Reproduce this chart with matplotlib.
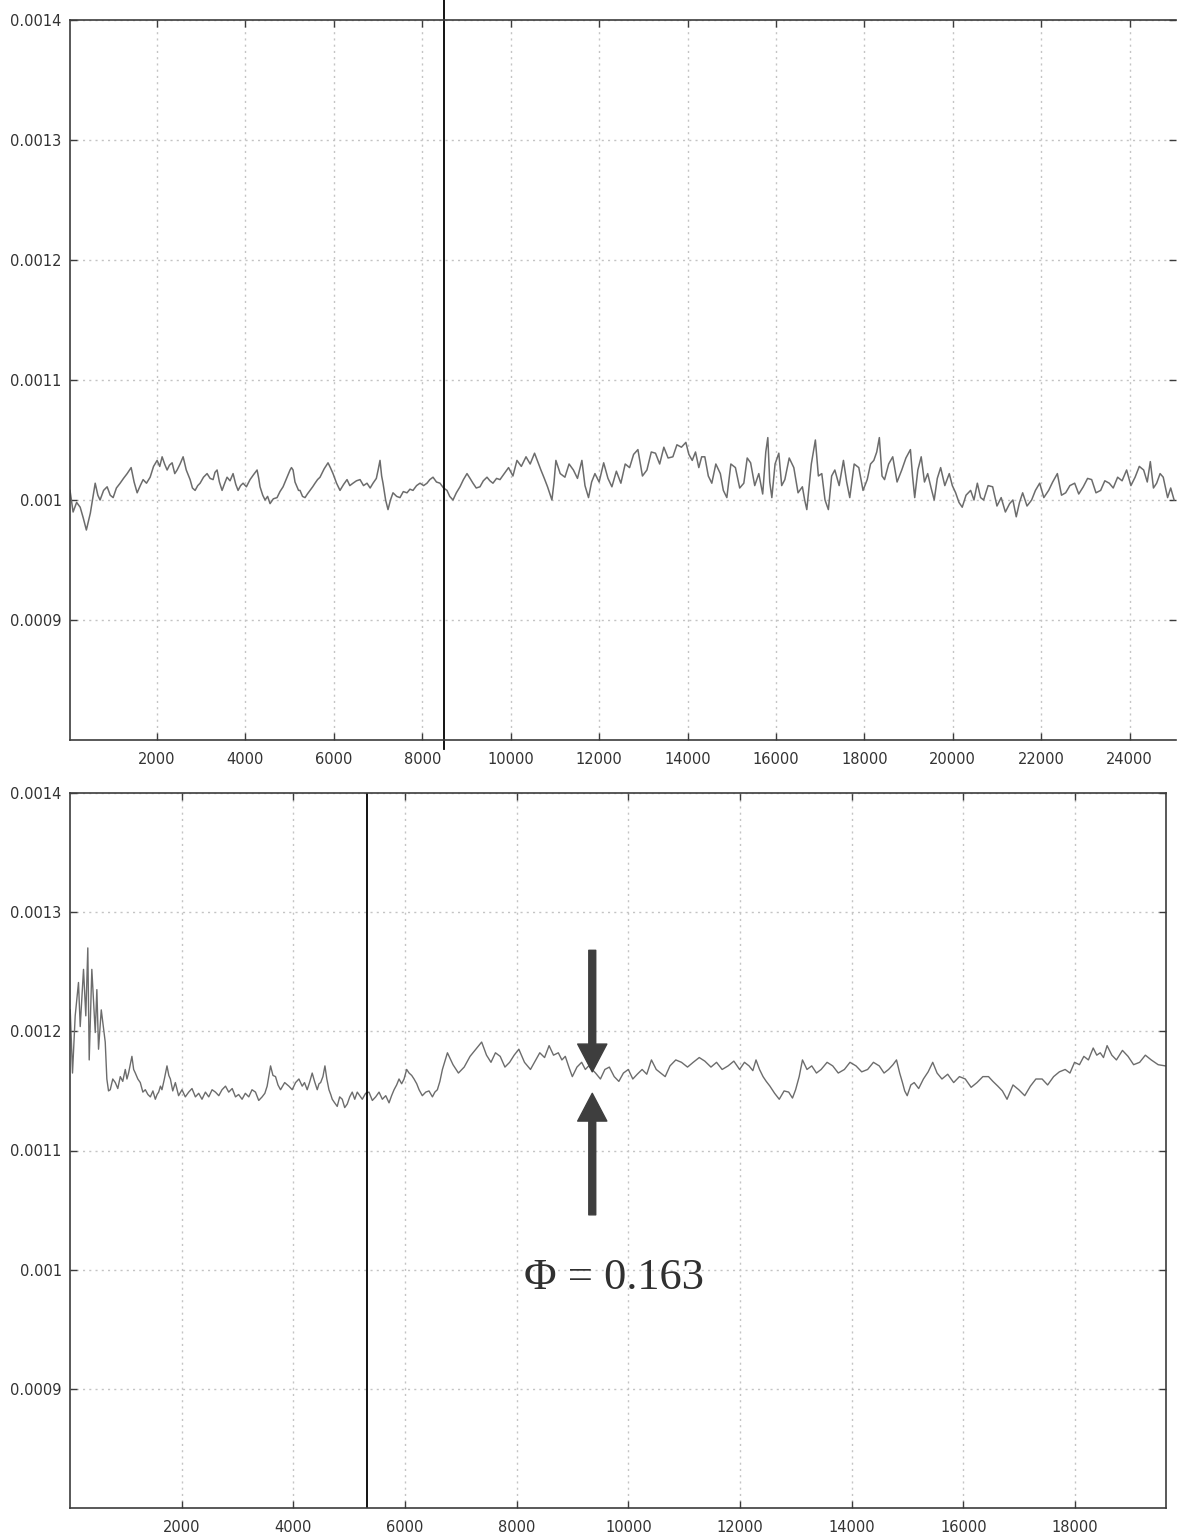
import numpy as np
import matplotlib
matplotlib.use("Agg")
import matplotlib.pyplot as plt
from matplotlib.ticker import FixedLocator, FixedFormatter

# ---------------- data (y values in units of 1e-6) ----------------
top_x = [30, 100, 180, 260, 330, 400, 490, 560, 600, 660, 710, 790, 870, 940, 1006, 1080, 1164, 1240,
         1323, 1413, 1480, 1549, 1620, 1684, 1760, 1843, 1920, 2001, 2060, 2114, 2170, 2227, 2280, 2340,
         2400, 2453, 2520, 2589, 2660, 2747, 2800, 2860, 2920, 2973, 3050, 3131, 3200, 3267, 3310, 3357,
         3410, 3470, 3530, 3583, 3650, 3719, 3780, 3832, 3890, 3945, 4020, 4103, 4180, 4262, 4300, 4329,
         4390, 4443, 4500, 4556, 4630, 4714, 4780, 4850, 4930, 5008, 5040, 5076, 5120, 5166, 5200, 5234,
         5290, 5347, 5400, 5460, 5520, 5573, 5630, 5686, 5780, 5867, 5920, 5980, 6060, 6138, 6220, 6297,
         6360, 6432, 6510, 6591, 6670, 6749, 6820, 6885, 6960, 7000, 7043, 7080, 7111, 7170, 7224, 7280,
         7337, 7420, 7495, 7570, 7654, 7720, 7789, 7870, 7948, 8030, 8106, 8170, 8242, 8320, 8400, 8480,
         8558, 8620, 8694, 8770, 8852, 8930, 9011, 9080, 9146, 9220, 9304, 9380, 9463, 9530, 9598, 9680,
         9757, 9951, 10050, 10141, 10240, 10346, 10440, 10539, 10610, 10683, 10760, 10833, 10932, 10980,
         11022, 11120, 11226, 11320, 11418, 11510, 11610, 11680, 11760, 11830, 11905, 12000, 12103, 12200,
         12289, 12390, 12492, 12590, 12689, 12780, 12877, 12980, 13081, 13180, 13275, 13370, 13464, 13560,
         13668, 13760, 13862, 13962, 14030, 14106, 14180, 14255, 14320, 14391, 14470, 14549, 14640, 14742,
         14810, 14889, 14980, 15083, 15180, 15273, 15350, 15427, 15520, 15612, 15700, 15770, 15816, 15860,
         15907, 15980, 16065, 16130, 16201, 16300, 16404, 16500, 16598, 16650, 16698, 16800, 16892, 16960,
         17037, 17110, 17186, 17260, 17332, 17430, 17527, 17600, 17670, 17770, 17874, 17970, 18065, 18140,
         18214, 18280, 18339, 18400, 18457, 18550, 18642, 18740, 18846, 18940, 19042, 19090, 19139, 19210,
         19286, 19360, 19433, 19510, 19580, 19650, 19726, 19820, 19921, 19990, 20065, 20140, 20214, 20300,
         20404, 20480, 20556, 20630, 20698, 20800, 20902, 21000, 21095, 21190, 21287, 21360, 21436, 21510,
         21581, 21680, 21784, 21870, 21966, 22060, 22169, 22260, 22366, 22460, 22554, 22650, 22758, 22850,
         22952, 23050, 23142, 23240, 23345, 23440, 23540, 23630, 23730, 23830, 23933, 24030, 24125, 24220,
         24318, 24400, 24469, 24540, 24612, 24690, 24761, 24860, 24930, 25007]
top_y = [1008, 990, 998, 994, 985, 975, 989, 1005, 1014, 1004, 1000, 1008, 1011, 1004, 1002, 1010, 1014, 1018,
         1022, 1027, 1015, 1006, 1012, 1017, 1014, 1019, 1028, 1033, 1028, 1036, 1030, 1025, 1029, 1031,
         1022, 1025, 1030, 1036, 1025, 1017, 1010, 1008, 1012, 1014, 1019, 1022, 1018, 1017, 1023, 1025,
         1015, 1008, 1014, 1019, 1016, 1022, 1013, 1008, 1012, 1014, 1011, 1017, 1021, 1025, 1018, 1011,
         1004, 1000, 1003, 997, 1001, 1002, 1007, 1011, 1018, 1025, 1027, 1025, 1015, 1011, 1008, 1008,
         1003, 1002, 1005, 1008, 1011, 1014, 1017, 1019, 1026, 1031, 1027, 1022, 1014, 1008, 1013, 1017,
         1012, 1014, 1016, 1017, 1012, 1014, 1010, 1014, 1018, 1025, 1033, 1020, 1014, 1000, 992, 1000,
         1006, 1003, 1002, 1007, 1006, 1009, 1008, 1012, 1014, 1012, 1014, 1017, 1019, 1015, 1014, 1010,
         1008, 1003, 1000, 1006, 1011, 1017, 1022, 1018, 1014, 1010, 1011, 1016, 1019, 1016, 1014, 1018,
         1017, 1027, 1020, 1033, 1028, 1036, 1030, 1039, 1032, 1025, 1018, 1011, 1000, 1015,
         1033, 1022, 1019, 1030, 1025, 1018, 1033, 1012, 1002, 1015, 1022, 1015, 1031, 1018,
         1011, 1024, 1014, 1030, 1027, 1038, 1042, 1020, 1025, 1040, 1039, 1030, 1044, 1035,
         1036, 1046, 1044, 1048, 1038, 1033, 1040, 1027, 1036, 1036, 1020, 1014, 1030, 1022,
         1008, 1002, 1030, 1027, 1010, 1014, 1035, 1031, 1012, 1022, 1005, 1040, 1052, 1015,
         1002, 1030, 1039, 1012, 1017, 1035, 1027, 1006, 1011, 1000, 992, 1030, 1050, 1020,
         1022, 1000, 992, 1020, 1025, 1012, 1033, 1015, 1002, 1030, 1027, 1008, 1017, 1030,
         1033, 1040, 1052, 1020, 1017, 1030, 1036, 1015, 1025, 1035, 1042, 1020, 1002, 1025,
         1036, 1015, 1022, 1010, 1000, 1018, 1027, 1012, 1022, 1012, 1006, 998, 994, 1004,
         1008, 1000, 1014, 1002, 1000, 1012, 1011, 995, 1002, 990, 997, 1000, 986, 998,
         1006, 995, 1000, 1008, 1014, 1002, 1008, 1015, 1022, 1004, 1006, 1012, 1014, 1005,
         1011, 1018, 1017, 1006, 1008, 1016, 1014, 1010, 1019, 1016, 1025, 1012, 1019, 1028,
         1025, 1015, 1032, 1010, 1014, 1022, 1019, 1002, 1010, 1000]

bot_x = [4, 45, 93, 152, 183, 242, 283, 319, 344, 391, 452, 481, 511, 560, 601, 631,
         660, 690, 721, 766, 811, 856, 901, 945, 990, 1020, 1049, 1080, 1109, 1140, 1170, 1215,
         1259, 1305, 1349, 1395, 1439, 1485, 1528, 1560, 1588, 1620, 1647, 1690, 1737, 1770, 1798, 1840,
         1887, 1945, 2006, 2065, 2126, 2185, 2246, 2305, 2364, 2425, 2485, 2545, 2605, 2665, 2723, 2785,
         2843, 2905, 2964, 3020, 3082, 3140, 3202, 3260, 3322, 3380, 3441, 3490, 3531, 3592, 3635, 3681,
         3725, 3771, 3845, 3920, 3980, 4040, 4100, 4159, 4200, 4248, 4290, 4338, 4380, 4428, 4460, 4489,
         4530, 4566, 4600, 4638, 4670, 4697, 4740, 4786, 4830, 4876, 4920, 4966, 5010, 5055, 5100, 5145,
         5190, 5235, 5295, 5355, 5415, 5475, 5535, 5594, 5655, 5714, 5760, 5804, 5850, 5893, 5940, 5983,
         6030, 6073, 6120, 6162, 6210, 6252, 6310, 6372, 6430, 6491, 6535, 6580, 6625, 6670, 6715, 6760,
         6860, 6957, 7060, 7165, 7270, 7373, 7460, 7540, 7620, 7705, 7790, 7874, 7955, 8039, 8140, 8247,
         8330, 8414, 8500, 8581, 8660, 8746, 8810, 8871, 8935, 8997, 9080, 9164, 9230, 9290, 9350, 9413,
         9500, 9580, 9660, 9747, 9830, 9912, 10000, 10080, 10160, 10247, 10330, 10414, 10500, 10579, 10660,
         10746, 10850, 10952, 11060, 11162, 11270, 11370, 11480, 11580, 11680, 11787, 11890, 11993, 12080,
         12162, 12230, 12287, 12350, 12413, 12470, 12536, 12620, 12703, 12790, 12872, 12940, 12996, 13060,
         13119, 13200, 13285, 13370, 13453, 13560, 13661, 13760, 13870, 13970, 14078, 14180, 14286, 14390,
         14494, 14580, 14661, 14740, 14803, 14860, 14910, 14950, 14995, 15060, 15120, 15200, 15285, 15370,
         15452, 15530, 15617, 15720, 15827, 15930, 16035, 16140, 16245, 16350, 16451, 16530, 16618, 16700,
         16783, 16890, 16993, 17100, 17201, 17300, 17411, 17510, 17617, 17720, 17824, 17910, 17992, 18080,
         18159, 18240, 18326, 18390, 18452, 18510, 18575, 18660, 18742, 18850, 18950, 19050, 19158, 19260,
         19366, 19490, 19617]
bot_y = [1218, 1165, 1213, 1241, 1204, 1252, 1213, 1270, 1176, 1252, 1199, 1235, 1185, 1218, 1202, 1191,
         1160, 1150, 1151, 1160, 1157, 1152, 1162, 1158, 1168, 1160, 1165, 1172, 1179, 1168, 1165, 1160,
         1157, 1149, 1151, 1147, 1145, 1150, 1143, 1147, 1149, 1154, 1151, 1160, 1171, 1163, 1160, 1150,
         1157, 1146, 1151, 1145, 1149, 1152, 1145, 1148, 1143, 1149, 1145, 1151, 1149, 1146, 1151, 1154,
         1149, 1152, 1145, 1147, 1143, 1148, 1145, 1151, 1149, 1142, 1145, 1148, 1154, 1171, 1163, 1162,
         1155, 1151, 1157, 1154, 1151, 1157, 1160, 1154, 1157, 1151, 1157, 1165, 1158, 1151, 1156, 1157,
         1162, 1171, 1160, 1151, 1147, 1143, 1140, 1137, 1145, 1143, 1136, 1139, 1145, 1149, 1143, 1149,
         1146, 1143, 1148, 1149, 1142, 1145, 1149, 1143, 1146, 1140, 1146, 1151, 1155, 1160, 1156, 1160,
         1168, 1165, 1163, 1160, 1156, 1151, 1146, 1149, 1150, 1145, 1149, 1151, 1158, 1168, 1175, 1182,
         1172, 1165, 1170, 1179, 1185, 1191, 1180, 1174, 1182, 1179, 1170, 1174, 1180, 1185, 1174, 1168,
         1175, 1182, 1178, 1188, 1180, 1182, 1176, 1179, 1170, 1162, 1170, 1174, 1168, 1171, 1168, 1165,
         1160, 1168, 1170, 1162, 1158, 1165, 1168, 1160, 1164, 1168, 1164, 1176, 1168, 1165, 1162,
         1171, 1176, 1174, 1170, 1174, 1178, 1175, 1170, 1174, 1168, 1171, 1175, 1168, 1174,
         1171, 1167, 1176, 1168, 1162, 1158, 1154, 1148, 1143, 1150, 1149, 1144, 1151, 1162,
         1176, 1168, 1171, 1165, 1168, 1174, 1171, 1165, 1168, 1174, 1171, 1166, 1168, 1174,
         1171, 1165, 1168, 1172, 1176, 1165, 1157, 1150, 1146, 1155, 1157, 1152, 1160, 1166,
         1174, 1165, 1160, 1164, 1157, 1162, 1160, 1153, 1157, 1162, 1162, 1158, 1154, 1150,
         1143, 1155, 1151, 1146, 1154, 1160, 1160, 1155, 1162, 1166, 1168, 1165, 1174, 1172,
         1179, 1176, 1186, 1180, 1182, 1178, 1188, 1180, 1176, 1184, 1179, 1172, 1174, 1180,
         1176, 1172, 1171]

y_ticks = [0.0009, 0.001, 0.0011, 0.0012, 0.0013, 0.0014]
y_labels = ["0.0009", "0.001", "0.0011", "0.0012", "0.0013", "0.0014"]
top_xticks = [2000, 4000, 6000, 8000, 10000, 12000, 14000, 16000, 18000, 20000, 22000, 24000]
bot_xticks = [2000, 4000, 6000, 8000, 10000, 12000, 14000, 16000, 18000]
top_marker_x = 8490
bot_marker_x = 5318
arrow_x = 9354
phi_text = "\u03a6 = 0.163"

# ---------------- figure ----------------
fig = plt.figure(figsize=(11.78, 15.35), dpi=100)
ax1 = fig.add_axes([70 / 1178, 1 - 740 / 1535, 1106 / 1178, 720 / 1535])
ax2 = fig.add_axes([70 / 1178, 1 - 1508 / 1535, 1096 / 1178, 715 / 1535])

line_col = "#6c6c6c"
spine_col = "#3c3c3c"
txt_col = "#333333"


def style(ax, xticks, xlim):
    ax.set_xlim(*xlim)
    ax.set_ylim(0.0008, 0.0014)
    ax.xaxis.set_major_locator(FixedLocator(xticks))
    ax.xaxis.set_major_formatter(FixedFormatter([str(t) for t in xticks]))
    ax.yaxis.set_major_locator(FixedLocator(y_ticks))
    ax.yaxis.set_major_formatter(FixedFormatter(y_labels))
    ax.grid(True, color="#c4c4c4", linestyle=(0, (1.5, 3)), linewidth=1.0)
    ax.set_axisbelow(True)
    ax.tick_params(direction="in", length=5, width=1.0, color=spine_col,
                   top=True, right=True, labelsize=10.5, labelcolor=txt_col)
    ax.tick_params(axis="x", pad=9)
    ax.tick_params(axis="y", pad=6)
    for s in ax.spines.values():
        s.set_color(spine_col)
        s.set_linewidth(1.2)


ax1.plot(top_x, np.array(top_y) * 1e-6, color=line_col, linewidth=1.1)
style(ax1, top_xticks, (30, 25050))
ax1.spines["right"].set_visible(False)
ax1.axvline(top_marker_x, ymin=-0.012, ymax=1.03, color="black", linewidth=1.3, clip_on=False)

ax2.plot(bot_x, np.array(bot_y) * 1e-6, color=line_col, linewidth=1.0)
style(ax2, bot_xticks, (0, 19630))
ax2.axvline(bot_marker_x, color="black", linewidth=1.3)

arrow_kw = dict(facecolor="#3e3e3e", edgecolor="#3e3e3e", width=5, headwidth=21, headlength=20)
ax2.annotate("", xy=(arrow_x, 0.001166), xytext=(arrow_x, 0.001268), arrowprops=arrow_kw)
ax2.annotate("", xy=(arrow_x, 0.001148), xytext=(arrow_x, 0.001046), arrowprops=arrow_kw)
ax2.text(9750, 0.000993, phi_text, ha="center", va="center", fontsize=32,
         family=["Liberation Serif", "DejaVu Serif"], color="#303030")

fig.savefig("out.png", dpi=100)
